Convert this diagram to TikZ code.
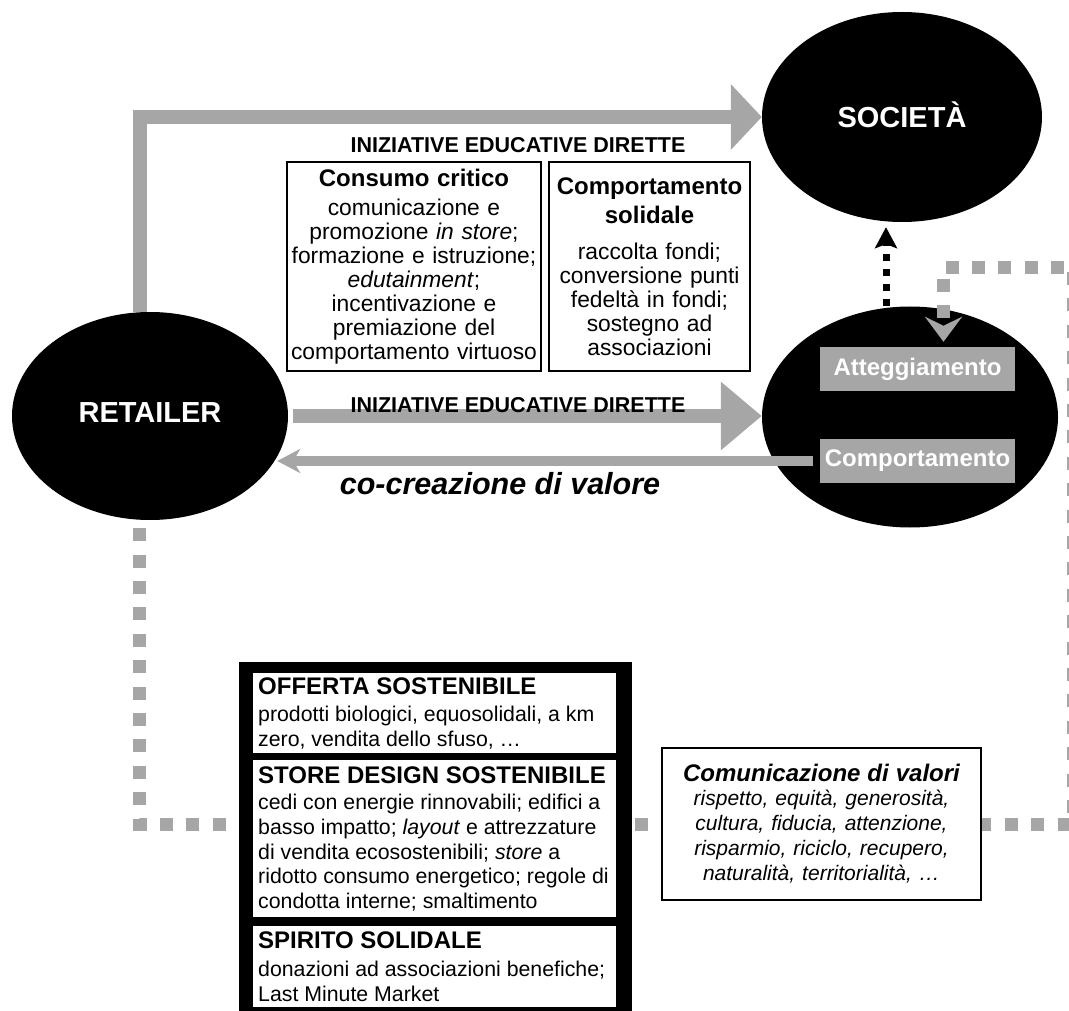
\documentclass[tikz,border=0pt]{standalone}
\usepackage{fontspec}
\setmainfont{Liberation Sans}
\usetikzlibrary{arrows.meta,shapes.geometric,calc}
\definecolor{arrgray}{RGB}{166,166,166}
\newcommand\fHead{\fontsize{24}{27}\selectfont\bfseries}
\newcommand\fBody{\fontsize{22.8}{24}\selectfont}
\newcommand\fLow{\fontsize{21.3}{24.6}\selectfont}
\newcommand\fVal{\fontsize{21}{25}\selectfont\itshape}
\begin{document}
\begin{tikzpicture}[x=1pt,y=-1pt,
  blob/.style={ellipse,fill=black,inner sep=0pt,text=white,font=\fontsize{29}{32}\selectfont\bfseries},
  graybox/.style={rectangle,fill=arrgray,text=white,minimum width=195pt,minimum height=44pt,inner sep=0pt,font=\fontsize{24}{26}\selectfont\bfseries},
  upbox/.style={rectangle,draw=black,line width=1.5pt,fill=white,align=center,inner xsep=2pt,inner ysep=0pt,font=\fBody},
  lowbox/.style={rectangle,fill=white,anchor=north west,inner sep=0pt,minimum width=363pt},
  lowtext/.style={anchor=west,align=left,inner sep=0pt,font=\fLow},
  lab/.style={inner sep=0pt,font=\fontsize{21.5}{24}\selectfont\bfseries},
  grayline/.style={draw=arrgray,line width=14pt},
  grayback/.style={draw=arrgray,line width=10pt},
  graydots/.style={draw=arrgray,line width=13pt,dash pattern=on 13pt off 13.4pt},
  blackdots/.style={draw=black,line width=7pt,dash pattern=on 7pt off 8pt}
]
\useasboundingbox (0,0) rectangle (1069,1011);

% main ellipses
\node[blob,minimum width=276pt,minimum height=208pt] (ret) at (150,416) {\raisebox{6pt}{RETAILER}};
\node[blob,minimum width=280pt,minimum height=210pt] (soc) at (902,117) {\raisebox{4pt}{SOCIETÀ}};
\node[blob,minimum width=296pt,minimum height=221pt] (cons) at (910,417) {};
\node[graybox] (att) at (917.5,369) {Atteggiamento};
\node[graybox] (comp) at (917.5,461) {Comportamento};

% connectors
\draw[grayline,-{Triangle[length=31pt,width=64pt]}] ([xshift=-10pt]ret.north) |- (soc.west);
\draw[grayline,-{Triangle[length=41pt,width=66pt]},shorten <=5pt] (ret.east) -- (ret.east -| cons.west);
\path (comp.west -| ret.east) ++(-11,0) coordinate (cctip);
\draw[grayback,-{Stealth[length=23pt,width=24pt,inset=7pt]},shorten <=7pt] (comp.west) -- (cctip);
\draw[blackdots,-{Stealth[length=21pt,width=22pt,inset=4pt]}] ([xshift=-24pt]cons.north) -- ([xshift=-16pt,yshift=-5pt]soc.south);
\draw[graydots,-{Stealth[length=25pt,width=37pt,inset=9pt]}] ([xshift=-11pt,yshift=-8pt]ret.south) |- (1073,824) -- (1073,267.5) -| ([xshift=26pt,yshift=5pt]att.north);

% labels
\node[lab] (lab1) at (518,145) {INIZIATIVE EDUCATIVE DIRETTE};
\node[lab] (lab2) at (518,405) {INIZIATIVE EDUCATIVE DIRETTE};
\node[inner sep=0pt,font=\fontsize{30.5}{32}\selectfont\bfseries\itshape] (cocre) at (500,484) {co-creazione di valore};

% upper boxes
\node[upbox,text width=250pt,minimum height=209pt] (crit) at (414,266.5) {%
{\fHead Consumo critico}\\[5pt]
comunicazione e\\
promozione \textit{in store};\\
formazione e istruzione;\\
\textit{edutainment};\\
incentivazione e\\
premiazione del\\
comportamento virtuoso};
\node[upbox,text width=197pt,minimum height=209pt] (sol) at (649.5,266.5) {%
{\fHead Comportamento}\\[5pt]
{\fHead solidale}\\[12pt]
raccolta fondi;\\
conversione punti\\
fedeltà in fondi;\\
sostegno ad\\
associazioni};

% lower black box
\node[rectangle,fill=black,inner sep=0pt,anchor=north west,minimum width=393pt,minimum height=349pt] (blk) at (239,662) {};
\node[lowbox,minimum height=80pt] (off) at (253,673) {};
\node[lowbox,minimum height=157pt] (sdes) at (253,760) {};
\node[lowbox,minimum height=81pt] (spir) at (253,926) {};
\node[lowtext] (offt) at ([xshift=5pt]off.west) {%
{\fHead OFFERTA SOSTENIBILE}\\[3pt]
prodotti biologici, equosolidali, a km\\
zero, vendita dello sfuso, …};
\node[lowtext] (sdest) at ([xshift=5pt]sdes.west) {%
{\fHead STORE DESIGN SOSTENIBILE}\\[2pt]
cedi con energie rinnovabili; edifici a\\
basso impatto; \textit{layout} e attrezzature\\
di vendita ecosostenibili; \textit{store} a\\
ridotto consumo energetico; regole di\\
condotta interne; smaltimento};
\node[lowtext] (spirt) at ([xshift=5pt]spir.west) {%
{\fHead SPIRITO SOLIDALE}\\[3pt]
donazioni ad associazioni benefiche;\\
Last Minute Market};

% values box
\node[rectangle,draw=black,line width=1.5pt,fill=white,align=center,inner xsep=4pt,inner ysep=0pt,text width=311pt,minimum height=152pt,font=\fVal] (val) at (821.5,824) {%
{\fHead\itshape Comunicazione di valori}\\[-1pt]
rispetto, equità, generosità,\\
cultura, fiducia, attenzione,\\
risparmio, riciclo, recupero,\\
naturalità, territorialità, …};
\end{tikzpicture}
\end{document}
